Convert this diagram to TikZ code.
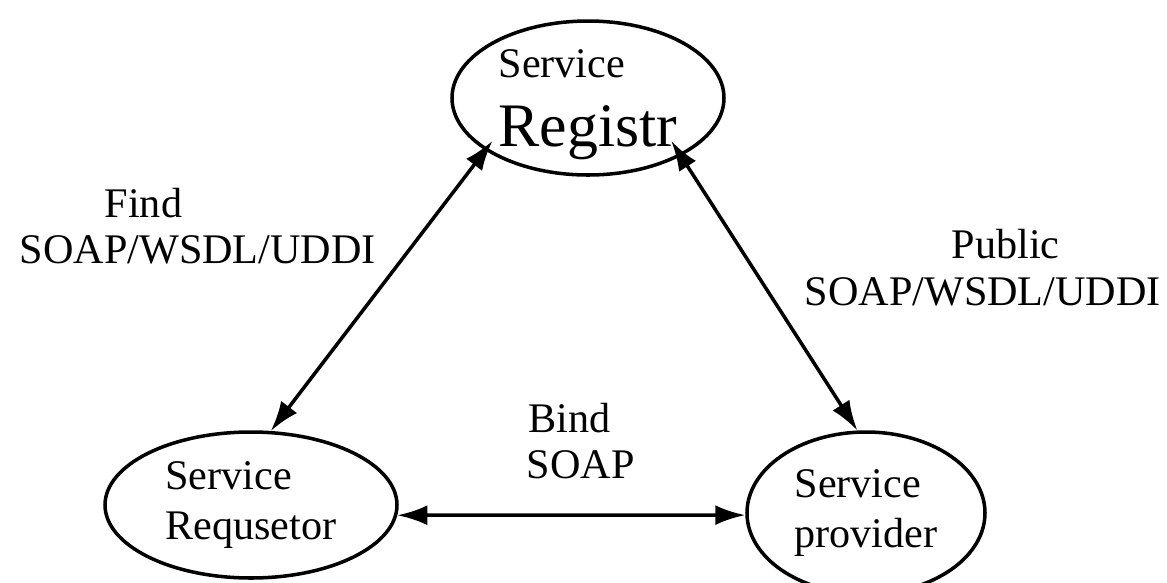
\documentclass[tikz,border=0pt]{standalone}
\usepackage{fontspec}
\setmainfont{Liberation Serif}
\usetikzlibrary{shapes.geometric, arrows.meta}

\begin{document}
\begin{tikzpicture}[>={Latex[length=3mm, width=2mm]}, line width=1pt, x=0.1mm, y=-0.1mm,
  font=\fontsize{12}{14.4}\selectfont,
  svc/.style={draw, ellipse, inner sep=0pt, align=left},
  lbl/.style={anchor=base west, inner sep=0pt}]
\clip (0,0) rectangle (1167,582);
\node[svc, minimum width=27.2mm, minimum height=15.4mm, text depth=0pt, font=\fontsize{12}{19.6}\selectfont] (reg) at (588,98) {Service\\{\fontsize{17.6}{19.6}\selectfont Registr}};
\node[svc, minimum width=29.2mm, minimum height=14.6mm] (req) at (251,505) {Service\\Requsetor};
\node[svc, minimum width=23.8mm, minimum height=16.2mm] (prov) at (866,513) {Service\\provider};
\draw[<->, shorten <=-1.2mm] (reg.207) -- (req.75);
\draw[<->, shorten <=-1.8mm] (reg.328) -- (prov.96);
\draw[<->] (req.-4) -- (prov.181);
\node[lbl] (findtxt) at (103,217) {Find};
\node[lbl] (findproto) at (18,263) {SOAP/WSDL/UDDI};
\node[lbl] (pubtxt) at (950,258) {Public};
\node[lbl] (pubproto) at (803,305) {SOAP/WSDL/UDDI};
\node[lbl] (bindtxt) at (527,432) {Bind};
\node[lbl] (bindproto) at (525,478) {SOAP};
\end{tikzpicture}
\end{document}
